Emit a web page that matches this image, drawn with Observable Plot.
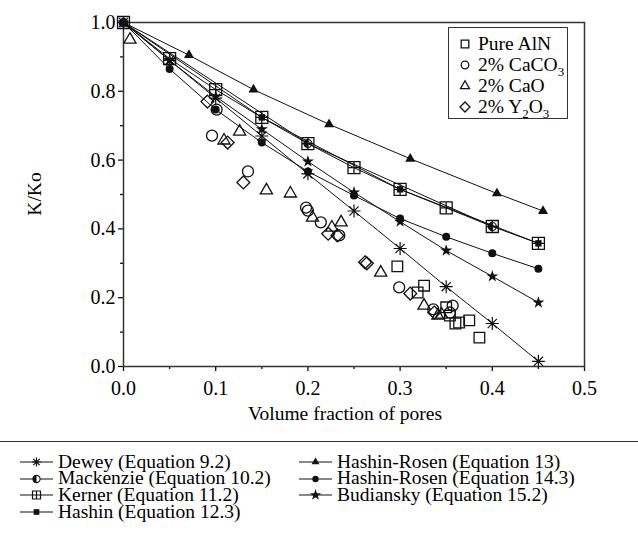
<!DOCTYPE html>
<html><head><meta charset="utf-8">
<style>
body{margin:0;background:#fff;}
#wrap{position:relative;width:638px;height:538px;overflow:hidden;background:#fff;font-family:'Liberation Serif';font-size:19.5px;color:#000;}
#wrap > svg{position:absolute;left:0;top:0;}
.t{position:absolute;white-space:nowrap;line-height:19.5px;font-family:'Liberation Serif';font-size:19.5px;color:#000;}
.t sub{font-size:13px;vertical-align:-5px;line-height:0;}
.warm{position:absolute;left:-500px;top:0;font-family:'Liberation Serif';}
</style></head><body>
<div class="warm">Volume 0.1 K/Ko</div>
<div id="wrap"></div>
<script src="https://cdn.jsdelivr.net/npm/d3@7"></script>
<script src="https://cdn.jsdelivr.net/npm/@observablehq/plot@0.6"></script>
<script>
// ---- data ----
const xTicks = [0, 0.1, 0.2, 0.3, 0.4, 0.5];
const xMinor = [0.05, 0.15, 0.25, 0.35, 0.45];
const yTicks = [0, 0.2, 0.4, 0.6, 0.8, 1.0];
const yMinor = [0.1, 0.3, 0.5, 0.7, 0.9];

const poreX = [0, 0.05, 0.1, 0.15, 0.2, 0.25, 0.3, 0.35, 0.4, 0.45];
const deweyK = [1.0, 0.89, 0.78, 0.67, 0.56, 0.452, 0.343, 0.232, 0.125, 0.015];
const kernerK = [1.0, 0.895, 0.805, 0.724, 0.648, 0.578, 0.515, 0.461, 0.407, 0.358];
const hashinX = [0, 0.15, 0.3, 0.45];
const hashinK = [1.0, 0.724, 0.515, 0.358];
const mackenzieX = [0, 0.2, 0.4];
const mackenzieK = [1.0, 0.648, 0.407];
const hr13X = [0, 0.071, 0.141, 0.223, 0.311, 0.405, 0.455];
const hr13K = [1.0, 0.905, 0.805, 0.704, 0.604, 0.503, 0.452];
const hr14K = [1.0, 0.865, 0.747, 0.651, 0.567, 0.497, 0.43, 0.377, 0.329, 0.284];
const budianskyK = [1.0, 0.89, 0.785, 0.69, 0.596, 0.506, 0.421, 0.337, 0.262, 0.186];

const alnX = [0.297, 0.319, 0.326, 0.35, 0.354, 0.36, 0.364, 0.375, 0.386];
const alnK = [0.291, 0.215, 0.235, 0.172, 0.148, 0.125, 0.128, 0.134, 0.084];
const caco3X = [0.096, 0.101, 0.135, 0.198, 0.2, 0.214, 0.234, 0.299, 0.336, 0.357, 0.354];
const caco3K = [0.671, 0.747, 0.567, 0.462, 0.453, 0.419, 0.381, 0.23, 0.166, 0.177, 0.157];
const caoX = [0.007, 0.109, 0.126, 0.155, 0.181, 0.205, 0.226, 0.236, 0.279, 0.326, 0.341, 0.345];
const caoK = [0.95, 0.657, 0.683, 0.512, 0.503, 0.433, 0.404, 0.419, 0.273, 0.177, 0.148, 0.151];
const y2o3X = [0.091, 0.113, 0.13, 0.222, 0.232, 0.262, 0.264, 0.311, 0.337];
const y2o3K = [0.77, 0.651, 0.535, 0.386, 0.381, 0.303, 0.30, 0.212, 0.157];

const expNames = ["Pure AlN", "2% CaCO3", "2% CaO", "2% Y2O3"];
const modelNames = ["Dewey (Equation 9.2)", "Mackenzie (Equation 10.2)", "Kerner (Equation 11.2)",
  "Hashin (Equation 12.3)", "Hashin-Rosen (Equation 13)", "Hashin-Rosen (Equation 14.3)", "Budiansky (Equation 15.2)"];
const xLabel = "Volume fraction of pores";
const yLabel = "K/Ko";

// ---- custom symbols ----
const rOf = size => Math.sqrt(size / Math.PI);
const asterisk8 = {draw(c, size){ const r = rOf(size);
  for (const a of [0, Math.PI/4, Math.PI/2, 3*Math.PI/4]) { c.moveTo(r*Math.cos(a), r*Math.sin(a)); c.lineTo(-r*Math.cos(a), -r*Math.sin(a)); } }};
const crossSquare = {draw(c, size){ const s = rOf(size);
  c.moveTo(-s,-s); c.lineTo(s,-s); c.lineTo(s,s); c.lineTo(-s,s); c.closePath();
  c.moveTo(-s,0); c.lineTo(s,0); c.moveTo(0,-s); c.lineTo(0,s); }};
const halfDisc = {draw(c, size){ const r = rOf(size);
  c.moveTo(0,-r); c.arc(0,0,r,-Math.PI/2,Math.PI/2,true); c.closePath(); }};

const pts = (xs, ys) => xs.map((x, i) => ({x, y: ys[i]}));
const lineRows = [];
[[poreX, deweyK], [poreX, kernerK], [hashinX, hashinK], [mackenzieX, mackenzieK], [hr13X, hr13K], [poreX, hr14K], [poreX, budianskyK]]
  .forEach(([xs, ys], s) => xs.forEach((x, i) => lineRows.push({series: modelNames[s], x, y: ys[i]})));

const ink = "#111";
const FONT = "Liberation Serif";
const chart = Plot.plot({
  width: 638, height: 432,
  marginTop: 22, marginLeft: 123, marginRight: 54, marginBottom: 66,
  x: {domain: [0, 0.5]}, y: {domain: [0, 1]},
  style: {fontFamily: FONT, fontSize: "20px"},
  marks: [
    Plot.axisX({ticks: xTicks, tickSize: 5, tickPadding: 9, tickFormat: ".1f", label: null, stroke: ink, strokeWidth: 1.3}),
    Plot.axisX({ticks: xMinor, tickSize: 3, tickFormat: () => "", label: null, stroke: ink, strokeWidth: 1.3}),
    Plot.axisY({ticks: yTicks, tickSize: 5, tickPadding: 3, tickFormat: ".1f", label: null, stroke: ink, strokeWidth: 1.3}),
    Plot.axisY({ticks: yMinor, tickSize: 3, tickFormat: () => "", label: null, stroke: ink, strokeWidth: 1.3}),
    Plot.frame({stroke: "#333", strokeWidth: 1.5}),
    Plot.line(lineRows, {x: "x", y: "y", z: "series", stroke: ink, strokeWidth: 1}),
    // experimental
    Plot.dot(pts(alnX, alnK), {x: "x", y: "y", symbol: "square", r: 6, stroke: ink, strokeWidth: 1.3, fill: "none"}),
    Plot.dot(pts(caco3X, caco3K), {x: "x", y: "y", symbol: "circle", r: 5.5, stroke: ink, strokeWidth: 1.3, fill: "none"}),
    Plot.dot(pts(caoX, caoK), {x: "x", y: "y", symbol: "triangle2", r: 5.8, stroke: ink, strokeWidth: 1.3, fill: "none"}),
    Plot.dot(pts(y2o3X, y2o3K), {x: "x", y: "y", symbol: "diamond2", r: 5.8, stroke: ink, strokeWidth: 1.3, fill: "none"}),
    // models
    Plot.dot(pts(poreX, kernerK), {x: "x", y: "y", symbol: crossSquare, r: 6, stroke: ink, strokeWidth: 1.3, fill: "none"}),
    Plot.dot(pts(hashinX, hashinK), {x: "x", y: "y", symbol: "square", r: 3.6, fill: ink}),
    Plot.dot(pts(mackenzieX, mackenzieK), {x: "x", y: "y", symbol: "circle", r: 4, stroke: ink, strokeWidth: 1.2, fill: "none"}),
    Plot.dot(pts(mackenzieX, mackenzieK), {x: "x", y: "y", symbol: halfDisc, r: 4, fill: ink}),
    Plot.dot(pts(hr13X, hr13K), {x: "x", y: "y", symbol: "triangle2", r: 4.8, fill: ink}),
    Plot.dot(pts(poreX, hr14K), {x: "x", y: "y", symbol: "circle", r: 4, fill: ink}),
    Plot.dot(pts(poreX, budianskyK), {x: "x", y: "y", symbol: "star", r: 3.8, fill: ink}),
    Plot.dot(pts(poreX, deweyK), {x: "x", y: "y", symbol: asterisk8, r: 6.5, stroke: ink, strokeWidth: 1.2})
  ]
});
const wrap = document.getElementById("wrap");
wrap.appendChild(chart);

// ---- HTML text helpers (baseline positioned) ----
const ASC = 16.3; // baseline offset inside a 19.5px line box
const subHtml = s => s.replace(/(?<=[A-Za-z])(\d+)/g, "<sub>$1</sub>");
function htmlText(str, x, baseline, anchor = "start") {
  const d = document.createElement("div");
  d.className = "t";
  d.innerHTML = subHtml(str);
  d.style.left = x + "px";
  d.style.top = (baseline - ASC) + "px";
  if (anchor === "middle") d.style.transform = "translateX(-50%)";
  wrap.appendChild(d);
  return d;
}
function symbolSvg(x, y, w, h, build) {
  const s = d3.create("svg").attr("width", w).attr("height", h)
    .style("position", "absolute").style("left", x + "px").style("top", y + "px").style("overflow", "visible");
  build(s);
  wrap.appendChild(s.node());
}
const symPath = (type, r) => d3.symbol(type, Math.PI * r * r)();

// axis labels
htmlText(xLabel, 345, 420, "middle");
const yl = htmlText(yLabel, 0, ASC);
yl.style.width = "100px"; yl.style.textAlign = "center";
yl.style.transformOrigin = "0 0";
yl.style.transform = `translate(41px,194px) rotate(-90deg) translate(-50px,${-ASC}px)`;

// top-right legend
const box = document.createElement("div");
Object.assign(box.style, {position: "absolute", left: "448px", top: "27px", width: "118px", height: "90px",
  border: "1.5px solid #333", background: "#fff"});
wrap.appendChild(box);
const expSyms = [[d3.symbolSquare, 4.3], [d3.symbolCircle, 3.8], [d3.symbolTriangle2, 4.3], [d3.symbolDiamond2, 4.5]];
expNames.forEach((n, i) => {
  const by = 50 + i * 21;
  symbolSvg(457, by - 14, 16, 16, s => s.append("path").attr("d", symPath(...expSyms[i]))
    .attr("transform", "translate(8,8)").attr("fill", "none").attr("stroke", ink).attr("stroke-width", 1.3));
  htmlText(n, 478, by);
});

// bottom legend
const rule = document.createElement("div");
Object.assign(rule.style, {position: "absolute", left: "0", top: "441px", width: "638px", height: "0", borderTop: "1.5px solid #333"});
wrap.appendChild(rule);
const modelSyms = [
  {type: asterisk8, r: 4.5, fill: "none", stroke: true},
  {type: "mack", r: 3.6},
  {type: crossSquare, r: 4, fill: "#fff", stroke: true},
  {type: d3.symbolSquare, r: 3.2, fill: ink},
  {type: d3.symbolTriangle2, r: 3.8, fill: ink},
  {type: d3.symbolCircle, r: 3.2, fill: ink},
  {type: d3.symbolStar, r: 3.6, fill: ink}
];
modelNames.forEach((n, i) => {
  const col = i < 4 ? 0 : 1, row = i < 4 ? i : i - 4;
  const x0 = col ? 299 : 20, by = 468 + row * 16.6, cy = by - 6;
  const m = modelSyms[i];
  symbolSvg(x0, cy - 8, 34, 16, s => {
    s.append("line").attr("x1", 0).attr("x2", 33).attr("y1", 8).attr("y2", 8).attr("stroke", ink).attr("stroke-width", 1.2);
    const g = s.append("g").attr("transform", "translate(16.5,8)");
    if (m.type === "mack") {
      g.append("path").attr("d", symPath(d3.symbolCircle, m.r)).attr("fill", "#fff").attr("stroke", ink).attr("stroke-width", 1.1);
      g.append("path").attr("d", symPath(halfDisc, m.r)).attr("fill", ink);
    } else {
      g.append("path").attr("d", symPath(m.type, m.r)).attr("fill", m.fill).attr("stroke", m.stroke ? ink : "none").attr("stroke-width", 1.2);
    }
  });
  htmlText(n, x0 + 38, by);
});
</script></body></html>
